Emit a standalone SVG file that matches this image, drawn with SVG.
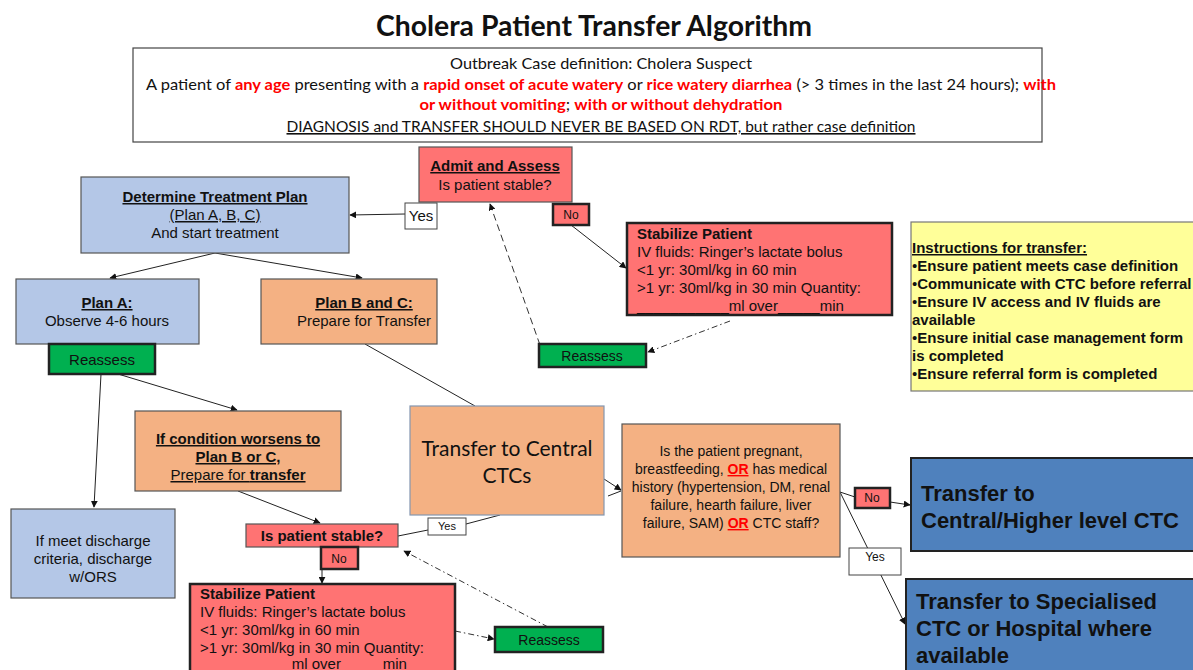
<svg xmlns="http://www.w3.org/2000/svg" width="1193" height="670" viewBox="0 0 1193 670">
  <defs>
    <marker id="arr" viewBox="0 0 10 10" refX="9" refY="5" markerWidth="7" markerHeight="7" orient="auto-start-reverse">
      <path d="M0,0 L10,5 L0,10 z" fill="#111"/>
    </marker>
    <style>
      .a { font-family: "Liberation Sans", Arial, sans-serif; fill: #111; font-size: 15px; }
      .c { font-family: Lato, "Open Sans", sans-serif; fill: #111; }
      .b { font-weight: bold; }
      .u { text-decoration: underline; }
      .red { fill: #FF0000; font-weight: bold; }
      .box { stroke: #555; stroke-width: 1.2; }
      .thick { stroke: #222; stroke-width: 2.5; }
      .pink { fill: #FF7373; }
      .orange { fill: #F4B183; }
      .lblue { fill: #B4C7E7; }
      .green { fill: #00B050; }
      .dblue { fill: #4F81BD; }
      .yellow { fill: #FFFF99; }
      .ln { stroke: #222; stroke-width: 1; fill: none; }
      .dash { stroke: #333; stroke-width: 1; fill: none; stroke-dasharray: 6 3 1.5 3; }
      .dash2 { stroke: #333; stroke-width: 1; fill: none; stroke-dasharray: 7 4; }
    </style>
  </defs>
  <rect width="1193" height="670" fill="#fff"/>

  <!-- title -->
  <text class="c b" x="594" y="36" font-size="28" text-anchor="middle" textLength="436" lengthAdjust="spacingAndGlyphs">Cholera Patient Transfer Algorithm</text>

  <!-- case definition -->
  <g id="case-definition">
    <rect x="133" y="48" width="909" height="94" fill="#fff" stroke="#444" stroke-width="1.2"/>
    <text class="c" x="601" y="69" font-size="16" text-anchor="middle" textLength="302" lengthAdjust="spacingAndGlyphs">Outbreak Case definition: Cholera Suspect</text>
    <text class="c" x="146" y="90" font-size="16" textLength="910" lengthAdjust="spacingAndGlyphs">A patient of <tspan class="red">any age</tspan> presenting with a <tspan class="red">rapid onset of acute watery</tspan> or <tspan class="red">rice watery diarrhea</tspan> (&gt; 3 times in the last 24 hours); <tspan class="red">with</tspan></text>
    <text class="c" x="601" y="110" font-size="16" text-anchor="middle" textLength="363" lengthAdjust="spacingAndGlyphs"><tspan class="red">or without vomiting</tspan>; <tspan class="red">with or without dehydration</tspan></text>
    <text class="c u" x="601" y="132" font-size="16" text-anchor="middle" textLength="629" lengthAdjust="spacingAndGlyphs">DIAGNOSIS and TRANSFER SHOULD NEVER BE BASED ON RDT, but rather case definition</text>
  </g>

  <!-- connectors -->
  <g id="connectors">
    <line class="ln" x1="405" y1="214" x2="350" y2="215" marker-end="url(#arr)"/>
    <line class="ln" x1="571" y1="225" x2="626" y2="268" marker-end="url(#arr)"/>
    <line class="dash" x1="730" y1="321" x2="648" y2="352" marker-end="url(#arr)"/>
    <line class="dash2" x1="540" y1="345" x2="490" y2="204" marker-end="url(#arr)"/>
    <line class="ln" x1="215" y1="253" x2="110" y2="278" marker-end="url(#arr)"/>
    <line class="ln" x1="215" y1="253" x2="362" y2="278" marker-end="url(#arr)"/>
    <line class="ln" x1="365" y1="344" x2="475" y2="406"/>
    <line class="ln" x1="101" y1="374" x2="94" y2="507" marker-end="url(#arr)"/>
    <line class="ln" x1="118" y1="374" x2="237" y2="410" marker-end="url(#arr)"/>
    <line class="ln" x1="238" y1="491" x2="320" y2="523" marker-end="url(#arr)"/>
    <line class="ln" x1="398" y1="536" x2="428" y2="530"/>
    <line class="ln" x1="466" y1="524" x2="500" y2="515"/>
    <line class="ln" x1="322" y1="569" x2="322" y2="583" marker-end="url(#arr)"/>
    <line class="dash" x1="455" y1="631" x2="494" y2="639" marker-end="url(#arr)"/>
    <line class="dash" x1="548" y1="627" x2="404" y2="551" marker-end="url(#arr)"/>
    <line class="ln" x1="604" y1="479" x2="621" y2="490" marker-end="url(#arr)"/>
    <line class="ln" x1="608" y1="496" x2="621" y2="491"/>
    <line class="ln" x1="840" y1="492" x2="855" y2="497"/>
    <line class="ln" x1="890" y1="502" x2="910" y2="505" marker-end="url(#arr)"/>
    <line class="ln" x1="840" y1="492" x2="905" y2="624" marker-end="url(#arr)"/>
  </g>

  <g id="admit-assess">
    <rect class="pink box" x="419" y="147" width="153" height="55"/>
    <text class="a b u" x="495" y="171" text-anchor="middle">Admit and Assess</text>
    <text class="a" x="495" y="190" text-anchor="middle">Is patient stable?</text>
  </g>
  <g id="yes-top">
    <rect x="405" y="203" width="32" height="26" fill="#fff" stroke="#444" stroke-width="1"/>
    <text class="a" x="421" y="221" text-anchor="middle">Yes</text>
  </g>
  <g id="no-top">
    <rect class="pink thick" x="553" y="204" width="36" height="21"/>
    <text class="a" x="571" y="219" font-size="12" text-anchor="middle" style="font-size:12px">No</text>
  </g>

  <g id="treatment-plan">
    <rect class="lblue box" x="81" y="177" width="268" height="76"/>
    <text class="a b u" x="215" y="202" text-anchor="middle">Determine Treatment Plan</text>
    <text class="a u" x="215" y="220" text-anchor="middle">(Plan A, B, C)</text>
    <text class="a" x="215" y="238" text-anchor="middle">And start treatment</text>
  </g>

  <g id="stabilize-top">
    <rect class="pink thick" x="627" y="223" width="265" height="92"/>
    <text class="a b" x="637" y="239">Stabilize Patient</text>
    <text class="a" x="637" y="257">IV fluids: Ringer’s lactate bolus</text>
    <text class="a" x="637" y="275">&lt;1 yr: 30ml/kg in 60 min</text>
    <text class="a" x="637" y="293">&gt;1 yr: 30ml/kg in 30 min Quantity:</text>
    <text class="a" x="637" y="311">___________ml over_____min</text>
  </g>

  <g id="reassess-top">
    <rect class="green thick" x="539" y="344" width="107" height="23"/>
    <text class="a" x="592" y="361" text-anchor="middle" style="font-size:14px">Reassess</text>
  </g>

  <g id="instructions">
    <rect class="yellow" x="911" y="222" width="290" height="169" stroke="#777" stroke-width="1.2"/>
    <g class="a b">
      <text class="a b u" x="912" y="253">Instructions for transfer:</text>
      <text class="a b" x="912" y="271"><tspan font-weight="normal">•</tspan>Ensure patient meets case definition</text>
      <text class="a b" x="912" y="289"><tspan font-weight="normal">•</tspan>Communicate with CTC before referral</text>
      <text class="a b" x="912" y="307"><tspan font-weight="normal">•</tspan>Ensure IV access and IV fluids are</text>
      <text class="a b" x="912" y="325">available</text>
      <text class="a b" x="912" y="343"><tspan font-weight="normal">•</tspan>Ensure initial case management form</text>
      <text class="a b" x="912" y="361">is completed</text>
      <text class="a b" x="912" y="379"><tspan font-weight="normal">•</tspan>Ensure referral form is completed</text>
    </g>
  </g>

  <g id="plan-a">
    <rect class="lblue box" x="16" y="279" width="183" height="65"/>
    <text class="a b u" x="107" y="308" text-anchor="middle">Plan A:</text>
    <text class="a" x="107" y="326" text-anchor="middle">Observe 4-6 hours</text>
  </g>
  <g id="reassess-a">
    <rect class="green thick" x="49" y="344" width="106" height="30"/>
    <text class="a" x="102" y="365" text-anchor="middle">Reassess</text>
  </g>

  <g id="plan-bc">
    <rect class="orange box" x="261" y="279" width="176" height="65"/>
    <text class="a b u" x="364" y="308" text-anchor="middle">Plan B and C:</text>
    <text class="a" x="364" y="326" text-anchor="middle">Prepare for Transfer</text>
  </g>

  <g id="transfer-central">
    <rect class="orange" x="410" y="406" width="194" height="109" stroke="#8496B0" stroke-width="1.2"/>
    <text class="c" x="507" y="456" font-size="21" text-anchor="middle">Transfer to Central</text>
    <text class="c" x="507" y="483" font-size="21" text-anchor="middle">CTCs</text>
  </g>

  <g id="condition-worsens">
    <rect class="orange box" x="135" y="411" width="206" height="80"/>
    <text class="a b u" x="238" y="444" text-anchor="middle">If condition worsens to</text>
    <text class="a b u" x="238" y="462" text-anchor="middle">Plan B or C,</text>
    <text class="a u" x="238" y="480" text-anchor="middle">Prepare for <tspan class="b">transfer</tspan></text>
  </g>

  <g id="discharge">
    <rect class="lblue box" x="11" y="509" width="164" height="89"/>
    <text class="a" x="93" y="546" text-anchor="middle">If meet discharge</text>
    <text class="a" x="93" y="564" text-anchor="middle">criteria, discharge</text>
    <text class="a" x="93" y="582" text-anchor="middle">w/ORS</text>
  </g>

  <g id="stable-check">
    <rect class="pink box" x="246" y="524" width="152" height="23"/>
    <text class="a b" x="322" y="541" text-anchor="middle">Is patient stable?</text>
  </g>
  <g id="yes-mid">
    <rect x="428" y="518" width="38" height="17" fill="#fff" stroke="#444" stroke-width="1"/>
    <text class="a" x="447" y="530" text-anchor="middle" style="font-size:11px">Yes</text>
  </g>
  <g id="no-mid">
    <rect class="pink thick" x="321" y="547" width="37" height="22"/>
    <text class="a" x="339" y="563" text-anchor="middle" style="font-size:12px">No</text>
  </g>

  <g id="stabilize-bottom">
    <rect class="pink thick" x="190" y="584" width="265" height="100"/>
    <text class="a b" x="200" y="599">Stabilize Patient</text>
    <text class="a" x="200" y="617">IV fluids: Ringer’s lactate bolus</text>
    <text class="a" x="200" y="635">&lt;1 yr: 30ml/kg in 60 min</text>
    <text class="a" x="200" y="653">&gt;1 yr: 30ml/kg in 30 min Quantity:</text>
    <text class="a" x="200" y="669">___________ml over_____min</text>
  </g>

  <g id="reassess-bottom">
    <rect class="green thick" x="495" y="627" width="108" height="25"/>
    <text class="a" x="549" y="645" text-anchor="middle" style="font-size:14px">Reassess</text>
  </g>

  <g id="pregnancy-check">
    <rect class="orange box" x="622" y="424" width="218" height="133"/>
    <g text-anchor="middle">
      <text class="a" x="731" y="456" style="font-size:14px">Is the patient pregnant,</text>
      <text class="a" x="731" y="474" style="font-size:14px">breastfeeding, <tspan class="red u">OR</tspan> has medical</text>
      <text class="a" x="731" y="492" style="font-size:14px">history (hypertension, DM, renal</text>
      <text class="a" x="731" y="510" style="font-size:14px">failure, hearth failure, liver</text>
      <text class="a" x="731" y="528" style="font-size:14px">failure, SAM) <tspan class="red u">OR</tspan> CTC staff?</text>
    </g>
  </g>
  <g id="no-right">
    <rect class="pink thick" x="855" y="488" width="35" height="20"/>
    <text class="a" x="872" y="502" text-anchor="middle" style="font-size:12px">No</text>
  </g>
  <g id="yes-right">
    <rect x="849" y="548" width="52" height="27" fill="#fff" stroke="#444" stroke-width="1"/>
    <text class="a" x="875" y="561" text-anchor="middle" style="font-size:12px">Yes</text>
  </g>

  <g id="transfer-higher">
    <rect class="dblue" x="911" y="458" width="290" height="93" stroke="#222" stroke-width="2"/>
    <text class="a b" x="921" y="501" style="font-size:22px">Transfer to</text>
    <text class="a b" x="921" y="528" style="font-size:22px">Central/Higher level CTC</text>
  </g>
  <g id="transfer-specialised">
    <rect class="dblue" x="906" y="579" width="295" height="100" stroke="#222" stroke-width="2"/>
    <text class="a b" x="916" y="609" style="font-size:22px">Transfer to Specialised</text>
    <text class="a b" x="916" y="636" style="font-size:22px">CTC or Hospital where</text>
    <text class="a b" x="916" y="663" style="font-size:22px">available</text>
  </g>
</svg>
